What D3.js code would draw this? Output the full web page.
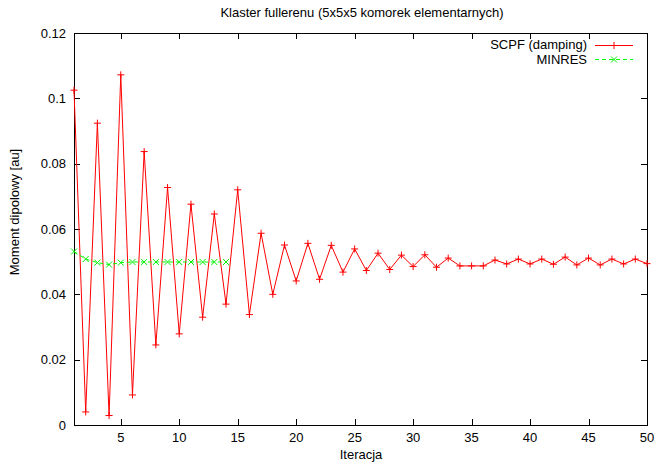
<!DOCTYPE html>
<html><head><meta charset="utf-8">
<script src="https://cdn.jsdelivr.net/npm/d3@7"></script>
<style>body{margin:0;background:#fff}svg{display:block}text{font-family:"Liberation Sans",Arial,sans-serif;font-size:13px;fill:#000}</style>
</head><body><svg id="c" width="658" height="463"></svg>
<script>
const iterations = d3.range(1, 51);
const scpf = [0.1025,0.0040,0.0924,0.0029,0.1072,0.0092,0.0837,0.0245,0.0727,0.0279,
0.0676,0.0330,0.0646,0.0370,0.0720,0.0338,0.0587,0.0400,0.0551,0.0441,
0.0556,0.0446,0.0550,0.0468,0.0539,0.0473,0.0526,0.0476,0.0520,0.0485,
0.0521,0.0483,0.0511,0.0487,0.0487,0.0487,0.0505,0.0493,0.0508,0.0493,
0.0508,0.0492,0.0514,0.0490,0.0511,0.0490,0.0508,0.0493,0.0508,0.0494];
const minres = [0.0531,0.0508,0.0497,0.0491,0.0497,0.0499,0.0499,0.0499,0.0499,0.0499,0.0499,0.0499,0.0499,0.0499];
const xTicks = [5,10,15,20,25,30,35,40,45,50];
const yTicks = [0,0.02,0.04,0.06,0.08,0.1,0.12];
const yTickLabels = ["0","0.02","0.04","0.06","0.08","0.1","0.12"];
const seriesNames = ["SCPF (damping)","MINRES"];

const svg = d3.select("#c");
const L=74, R=647, T=33, B=425;
const x = d3.scaleLinear().domain([1,50]).range([L,R]);
const y = d3.scaleLinear().domain([0,0.12]).range([B,T]);
const tl = 6;

const g = svg.append("g").attr("stroke","#000").attr("stroke-width",1).attr("fill","none");
g.append("rect").attr("x",L+0.5).attr("y",T+0.5).attr("width",R-L).attr("height",B-T);
xTicks.forEach(v=>{const px=Math.round(x(v))+0.5;
  g.append("line").attr("x1",px).attr("x2",px).attr("y1",B).attr("y2",B-tl);
  g.append("line").attr("x1",px).attr("x2",px).attr("y1",T).attr("y2",T+tl);});
yTicks.forEach(v=>{const py=Math.round(y(v))+0.5;
  g.append("line").attr("x1",L).attr("x2",L+tl).attr("y1",py).attr("y2",py);
  g.append("line").attr("x1",R).attr("x2",R-tl).attr("y1",py).attr("y2",py);});
xTicks.forEach(v=>svg.append("text").attr("x",x(v)).attr("y",B+17).attr("text-anchor","middle").text(v));
yTicks.forEach((v,i)=>svg.append("text").attr("x",L-8).attr("y",y(v)+4.5).attr("text-anchor","end").text(yTickLabels[i]));

svg.append("text").attr("x",362).attr("y",17).attr("text-anchor","middle").text("Klaster fullerenu (5x5x5 komorek elementarnych)");
svg.append("text").attr("x",361).attr("y",459).attr("text-anchor","middle").text("Iteracja");
svg.append("text").attr("transform","translate(19,212) rotate(-90)").attr("text-anchor","middle").text("Moment dipolowy [au]");

const line = d3.line().x((d,i)=>x(iterations[i])).y(d=>y(d));
const plot = svg.append("g");
plot.append("path").datum(scpf).attr("d",line).attr("fill","none").attr("stroke","#ff0000").attr("stroke-width",1);
plot.append("path").datum(minres).attr("d",line).attr("fill","none").attr("stroke","#00ff00").attr("stroke-width",1).attr("stroke-dasharray","4,3");
const plus = (s,cx,cy,c,r)=>{s.append("path").attr("d",`M${cx-r},${cy}H${cx+r}M${cx},${cy-r}V${cy+r}`).attr("stroke",c).attr("fill","none");};
const cross = (s,cx,cy,c,r)=>{s.append("path").attr("d",`M${cx-r},${cy-r}L${cx+r},${cy+r}M${cx-r},${cy+r}L${cx+r},${cy-r}`).attr("stroke",c).attr("fill","none");};
scpf.forEach((d,i)=>plus(plot,x(iterations[i]),y(d),"#ff0000",3.5));
minres.forEach((d,i)=>cross(plot,x(iterations[i]),y(d),"#00ee00",3));

svg.append("text").attr("x",587).attr("y",49).attr("text-anchor","end").text(seriesNames[0]);
svg.append("text").attr("x",587).attr("y",64).attr("text-anchor","end").text(seriesNames[1]);
svg.append("line").attr("x1",595).attr("x2",633).attr("y1",45.5).attr("y2",45.5).attr("stroke","#ff0000");
plus(svg,614,45.5,"#ff0000",3.5);
svg.append("line").attr("x1",595).attr("x2",633).attr("y1",59.5).attr("y2",59.5).attr("stroke","#00ff00").attr("stroke-dasharray","4,3");
cross(svg,614,59.5,"#00ee00",3);
</script></body></html>
